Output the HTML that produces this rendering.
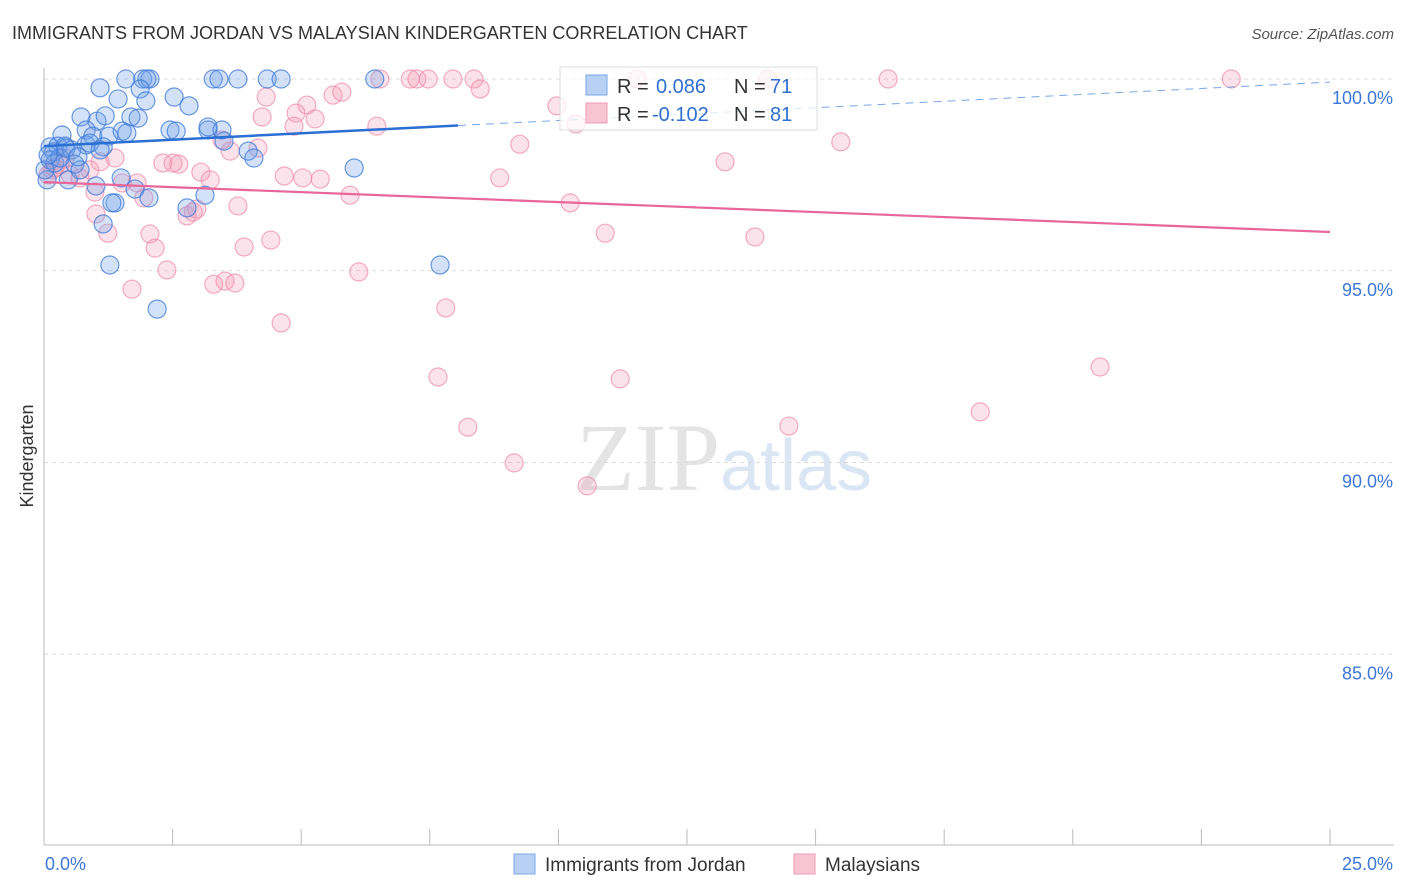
<!DOCTYPE html>
<html><head><meta charset="utf-8"><style>
body{margin:0;background:#fff;font-family:"Liberation Sans",sans-serif}
#wrap{position:relative;width:1406px;height:892px;overflow:hidden}
</style></head><body>
<div id="wrap">
<svg id="svg" width="1406" height="892" xmlns="http://www.w3.org/2000/svg">
<text x="12" y="39" font-size="18" fill="#333">IMMIGRANTS FROM JORDAN VS MALAYSIAN KINDERGARTEN CORRELATION CHART</text>
<text x="1394" y="39" font-size="15" fill="#555" font-style="italic" text-anchor="end">Source: ZipAtlas.com</text>
<text transform="translate(33,456) rotate(-90)" font-size="18" fill="#333" text-anchor="middle">Kindergarten</text>
<text x="720" y="490" font-size="96" fill="#e4e4e4" text-anchor="end" font-family="Liberation Serif">ZIP</text>
<text x="720" y="490" font-size="72" fill="#dbe6f5">atlas</text>
<g id="grid"></g>
<g id="axes"></g>
<g id="pts"></g>
<g id="trend"></g>
<g id="legend">
<rect x="560" y="67" width="257" height="63" fill="rgba(255,255,255,0.75)" stroke="#ddd"/>
<rect x="586" y="75" width="21" height="20" fill="#b8d0f4" stroke="#7aa6e6"/>
<rect x="586" y="103" width="21" height="20" fill="#f8c4d3" stroke="#ee9cb6"/>
<text x="617" y="93" font-size="20" fill="#333">R = </text><text x="656" y="93" font-size="20" fill="#2f6fd0">0.086</text>
<text x="734" y="93" font-size="20" fill="#333">N = </text><text x="770" y="93" font-size="20" fill="#2f6fd0">71</text>
<text x="617" y="121" font-size="20" fill="#333">R = </text><text x="652" y="121" font-size="20" fill="#2f6fd0">-0.102</text>
<text x="734" y="121" font-size="20" fill="#333">N = </text><text x="770" y="121" font-size="20" fill="#2f6fd0">81</text>
</g>
<g>
<rect x="514" y="854" width="21" height="20" fill="#b8d0f4" stroke="#7aa6e6"/>
<text x="545" y="871" font-size="19" fill="#333">Immigrants from Jordan</text>
<rect x="794" y="854" width="21" height="20" fill="#f8c4d3" stroke="#ee9cb6"/>
<text x="825" y="871" font-size="19" fill="#333">Malaysians</text>
</g>
</svg>
</div>
<script>
const blueX=[1.59,1.92,2.06,2.00,3.29,3.40,3.77,4.34,4.61,6.43,1.09,1.87,1.44,1.98,2.53,2.82,0.72,1.03,1.19,1.69,1.83,0.35,0.82,0.95,1.26,1.52,1.61,2.45,2.57,3.19,3.46,3.19,3.50,0.12,0.27,0.41,0.54,0.82,0.89,1.15,0.19,3.97,4.08,6.03,0.60,0.06,0.47,1.01,1.50,1.77,2.04,2.78,3.13,1.38,1.32,1.15,1.28,7.70,2.20,0.12,0.21,0.02,0.31,0.70,0.08,0.43,1.09,0.66];
const blueY=[100,100,100,100,100,100,100,100,100,100,99.77,99.74,99.48,99.43,99.53,99.30,99.01,98.90,99.04,99.01,98.98,98.54,98.67,98.51,98.51,98.64,98.59,98.67,98.64,98.67,98.67,98.75,98.38,98.23,98.25,98.25,98.15,98.28,98.33,98.23,98.10,98.12,97.94,97.68,97.78,97.37,97.37,97.21,97.42,97.13,96.90,96.64,96.97,96.77,96.77,96.22,95.15,95.15,94.00,97.89,97.81,97.63,97.94,97.63,98.02,98.20,98.15,97.97];
const pinkX=[6.53,7.12,7.25,7.47,7.95,8.36,11.53,14.07,16.41,23.08,8.48,4.32,5.11,5.62,5.79,4.90,5.27,4.86,4.24,6.47,9.97,10.34,9.25,15.49,13.24,1.38,1.09,2.31,2.51,2.62,3.62,3.46,4.16,3.05,3.23,4.67,5.03,5.37,8.86,1.52,1.81,0.99,1.94,3.77,5.95,10.23,2.78,2.90,2.97,1.01,1.24,2.06,2.16,3.89,4.41,10.91,13.82,2.39,6.12,3.30,3.52,3.71,1.71,7.81,4.61,20.53,7.66,11.20,18.20,8.24,14.48,9.14,10.56,0.16,0.31,0.51,0.70,0.08,0.89,0.41,0.21];
const pinkY=[100,100,100,100,100,100,100,100,100,100,99.74,99.53,99.32,99.58,99.66,99.11,98.96,98.77,99.01,98.77,99.30,98.83,98.30,98.36,97.84,97.94,97.84,97.81,97.81,97.78,98.12,98.41,98.20,97.57,97.37,97.47,97.42,97.39,97.42,97.29,97.29,97.05,96.90,96.69,96.97,96.77,96.43,96.53,96.61,96.48,95.98,95.96,95.59,95.62,95.80,95.98,95.88,95.02,94.97,94.65,94.73,94.68,94.52,94.03,93.64,92.49,92.23,92.18,91.32,90.92,90.95,89.99,89.39,97.63,97.76,97.50,97.42,97.50,97.63,97.94,97.68];
const blueTrend=[98.25,99.92];
const pinkTrend=[97.31,96.01];
const yTicks=[100,95,90,85];
const yTickLabels=["100.0%","95.0%","90.0%","85.0%"];
const xTicks=[0,2.5,5,7.5,10,12.5,15,17.5,20,22.5,25];
const xLabels=["0.0%","25.0%"];
const NS="http://www.w3.org/2000/svg";
const X0=44,X1=1330,xs=v=>X0+(v/25)*(X1-X0);
const ys=v=>79+(100-v)*38.35;
function mk(t,a,p){const e=document.createElementNS(NS,t);for(const k in a)e.setAttribute(k,a[k]);p.appendChild(e);return e;}
const grid=document.getElementById('grid'),axes=document.getElementById('axes');
yTicks.forEach((v,i)=>{
 const l=mk('line',{x1:X0,x2:1394,y1:ys(v),y2:ys(v),stroke:'#dcdcdc','stroke-dasharray':'4,4'},grid);
 
 
 const t=mk('text',{x:1393,y:ys(v)+25,'font-size':18,fill:'#3d78d8','text-anchor':'end'},axes);
 t.textContent=yTickLabels[i];
 
 
});
const ax=mk('line',{x1:X0,x2:X0,y1:68,y2:845,stroke:'#bbb'},axes);


const bx=mk('line',{x1:X0,x2:1394,y1:845,y2:845,stroke:'#bbb'},axes);


xTicks.forEach(v=>{
 const t=mk('line',{x1:xs(v),x2:xs(v),y1:829,y2:845,stroke:'#bbb'},axes);
 
 
});
const l0=mk('text',{x:45,y:870,'font-size':18,fill:'#3d78d8'},axes);l0.textContent=xLabels[0];


const l1=mk('text',{x:1393,y:870,'font-size':18,fill:'#3d78d8','text-anchor':'end'},axes);l1.textContent=xLabels[1];


const pts=document.getElementById('pts');
pinkX.forEach((x,i)=>{
 const c=mk('circle',{cx:xs(x),cy:ys(pinkY[i]),r:9,fill:'rgba(244,150,180,0.28)',stroke:'rgba(236,140,170,0.7)','stroke-width':1.2},pts);
 
 
});
blueX.forEach((x,i)=>{
 const c=mk('circle',{cx:xs(x),cy:ys(blueY[i]),r:9,fill:'rgba(110,160,232,0.3)',stroke:'rgba(60,120,215,0.75)','stroke-width':1.2},pts);
 
 
});
const tr=document.getElementById('trend');
const bAt=v=>blueTrend[0]+(blueTrend[1]-blueTrend[0])*v/25;
const t1=mk('line',{x1:xs(0),y1:ys(bAt(0)),x2:xs(8.05),y2:ys(bAt(8.05)),stroke:'#2a6fd4','stroke-width':2.5},tr);


const t2=mk('line',{x1:xs(8.05),y1:ys(bAt(8.05)),x2:xs(25),y2:ys(bAt(25)),stroke:'#7aa6e6','stroke-width':1,'stroke-dasharray':'8,6'},tr);


const t3=mk('line',{x1:xs(0),y1:ys(pinkTrend[0]),x2:xs(25),y2:ys(pinkTrend[1]),stroke:'#e8669a','stroke-width':2.2},tr);


</script>
</body></html>
